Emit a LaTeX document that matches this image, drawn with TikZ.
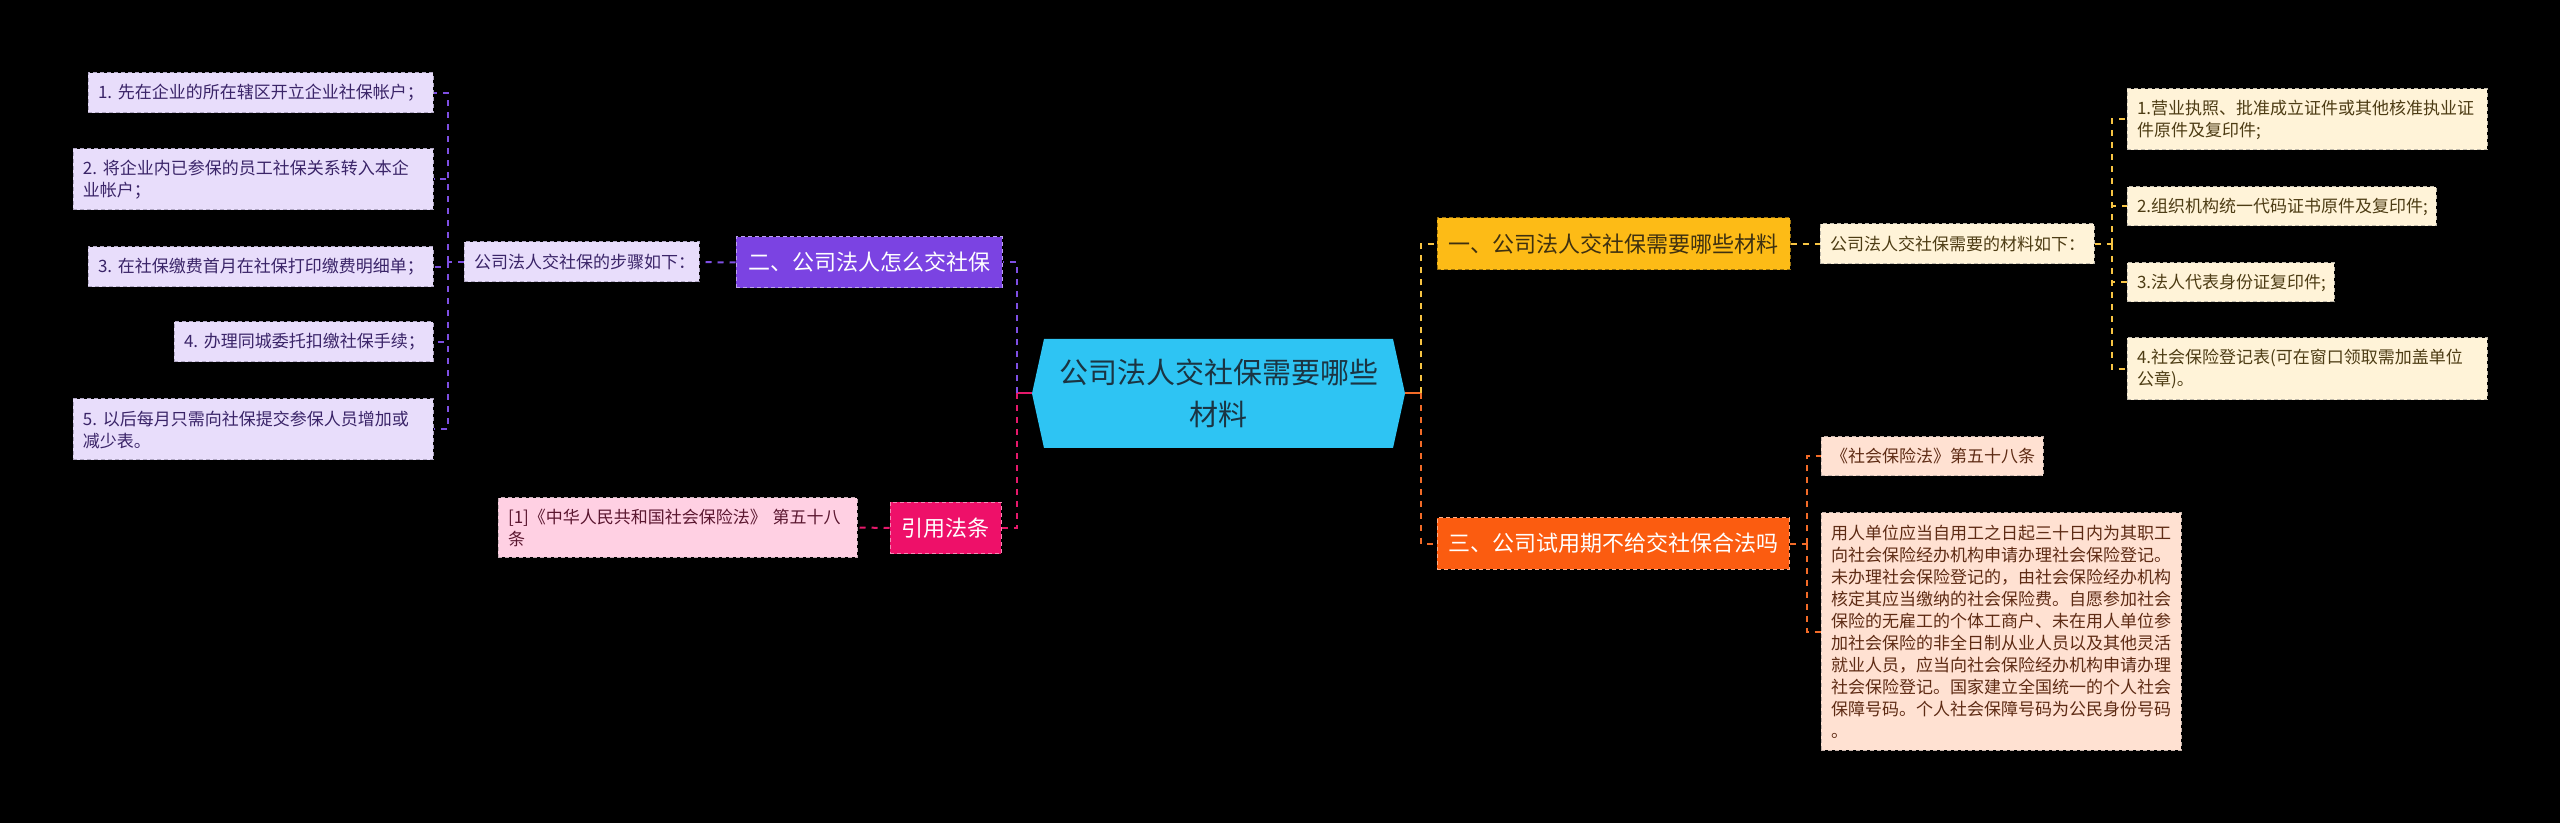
\documentclass[tikz,border=0pt]{standalone}
\usepackage{fontspec}
\setmainfont{Noto Sans CJK SC}
\usepackage{tikz}
\usepackage{xcolor}

\definecolor{rootfill}{HTML}{2EC4F3}
\definecolor{roottext}{HTML}{1B3442}
\definecolor{purpleA}{HTML}{7B43E2}
\definecolor{purpleB}{HTML}{E8DDFB}
\definecolor{purpleT}{HTML}{3A2468}
\definecolor{purpleL}{HTML}{7E4FE3}
\definecolor{pinkA}{HTML}{EE1069}
\definecolor{pinkB}{HTML}{FFD0E3}
\definecolor{pinkT}{HTML}{5B1730}
\definecolor{pinkL}{HTML}{E5196B}
\definecolor{yellowA}{HTML}{FDBB16}
\definecolor{yellowB}{HTML}{FFF3D8}
\definecolor{yellowT}{HTML}{4D3C14}
\definecolor{yellowL}{HTML}{F7C443}
\definecolor{orangeA}{HTML}{FB5C10}
\definecolor{orangeB}{HTML}{FFE1D2}
\definecolor{orangeT}{HTML}{5E2B14}
\definecolor{orangeL}{HTML}{F26B28}

\begin{document}
\begin{tikzpicture}[
  x=0.5pt, y=-0.5pt,
  every node/.style={font=\fontsize{8.5}{11}\selectfont},
  leafbox/.style={rectangle, line width=0.5pt, dash pattern=on 2pt off 1.5pt,
    inner xsep=5pt, inner ysep=0pt, align=left},
  mainbox/.style={rectangle, line width=0.5pt, dash pattern=on 2pt off 1.5pt,
    inner sep=0pt, font=\fontsize{11}{14}\selectfont},
  link/.style={line width=1pt, dash pattern=on 3pt off 3pt},
  stub/.style={line width=1pt},
  purpleleaf/.style={leafbox, fill=purpleB, draw=purpleT!40, text=purpleT},
  pinkleaf/.style={leafbox, fill=pinkB, draw=pinkT!35, text=pinkT},
  yellowleaf/.style={leafbox, fill=yellowB, draw=yellowT!35, text=yellowT},
  orangeleaf/.style={leafbox, fill=orangeB, draw=orangeT!35, text=orangeT},
]

% ---- Background and frame ----
\fill[black] (0,0) rectangle (2560,823);
\useasboundingbox (0,0) rectangle (2560,823);

% ---- Root hexagon ----
\fill[rootfill] (1032,393.5) -- (1044,339) -- (1393,339) -- (1405,393.5)
  -- (1393,448) -- (1044,448) -- cycle;
\node[inner sep=0pt, minimum width=186.5pt, minimum height=54.5pt, align=center,
  text=roottext, font=\fontsize{14.5}{20.8}\selectfont] (root) at (1218.5,393.5)
  {公司法人交社保需要哪些\\材料};

% ---- Junctions beside the root ----
\coordinate (jl) at (1017,393.5);
\coordinate (jr) at (1421,393.5);
\draw[stub, pinkL] (root.west) -- (jl);
\draw[stub, orangeL] (root.east) -- (jr);

% ---- Branch 2: how to pay (purple) ----
\node[mainbox, fill=purpleA, draw=purpleA!50!white, text=white,
  minimum width=133pt, minimum height=25.5pt] (p2) at (869,262.5) {二、公司法人怎么交社保};
\node[purpleleaf, text width=107.5pt, minimum height=20pt] (subL) at (581.5,262)
  {公司法人交社保的步骤如下：};
\draw[link, purpleL] (jl) |- (p2.east);
\draw[link, purpleL] (p2.west) -- (subL.east);
\path (subL.west) ++(-16,0) coordinate (bl);
\draw[link, purpleL] (subL.west) -- (bl);

\foreach \n/\x/\y/\w/\h/\txt in {
  1/260.5/93/345/40/{1.~先在企业的所在辖区开立企业社保帐户；},
  2/253/179.5/360/61/{2.~将企业内已参保的员工社保关系转入本企\\业帐户；},
  3/260.5/267/345/40/{3.~在社保缴费首月在社保打印缴费明细单；},
  4/303.5/342/259/40/{4.~办理同城委托扣缴社保手续；},
  5/253/429.5/360/61/{5.~以后每月只需向社保提交参保人员增加或\\减少表。}} {
  \pgfmathsetmacro\tw{(\w-20)*0.5}
  \pgfmathsetmacro\th{\h*0.5}
  \node[purpleleaf, text width=\tw pt, minimum height=\th pt] (s\n) at (\x,\y) {\txt};
  \draw[link, purpleL] (bl) |- (s\n.east);
}

% ---- Cited law (pink) ----
\node[mainbox, fill=pinkA, draw=pinkA!50!white, text=white,
  minimum width=55.5pt, minimum height=25.5pt] (c1) at (945.5,528) {引用法条};
\node[pinkleaf, text width=169.5pt, minimum height=29.5pt] (cite) at (677.5,527.5)
  {[1]《中华人民共和国社会保险法》 第五十八\\条};
\draw[link, pinkL] (jl) |- (c1.east);
\draw[link, pinkL] (c1.west) -- (cite.east);

% ---- Branch 1: materials (yellow) ----
\node[mainbox, fill=yellowA, draw=yellowA!60!black, text=yellowT!80!black,
  minimum width=176.5pt, minimum height=26pt] (y1) at (1613.5,244) {一、公司法人交社保需要哪些材料};
\node[yellowleaf, text width=127pt, minimum height=20pt] (subR) at (1957,244)
  {公司法人交社保需要的材料如下：};
\draw[link, yellowL] (jr) |- (y1.west);
\draw[link, yellowL] (y1.east) -- (subR.west);
\path (subR.east) ++(17,0) coordinate (br);
\draw[link, yellowL] (subR.east) -- (br);

\foreach \n/\x/\y/\w/\h/\txt in {
  1/2307/119.5/360/61/{1.营业执照、批准成立证件或其他核准执业证\\件原件及复印件;},
  2/2281.5/206.5/309/39/{2.组织机构统一代码证书原件及复印件;},
  3/2230.5/282.5/207/39/{3.法人代表身份证复印件;},
  4/2307/369/360/62/{4.社会保险登记表(可在窗口领取需加盖单位\\公章)。}} {
  \pgfmathsetmacro\tw{(\w-20)*0.5}
  \pgfmathsetmacro\th{\h*0.5}
  \node[yellowleaf, text width=\tw pt, minimum height=\th pt] (m\n) at (\x,\y) {\txt};
  \draw[link, yellowL] (br) |- (m\n.west);
}

% ---- Branch 3: probation period (orange) ----
\node[mainbox, fill=orangeA, draw=orangeA!50!white, text=white,
  minimum width=176pt, minimum height=25.5pt] (o1) at (1613,543.5) {三、公司试用期不给交社保合法吗};
\draw[link, orangeL] (jr) |- (o1.west);
\path (o1.east) ++(17,0) coordinate (bo);
\draw[link, orangeL] (o1.east) -- (bo);

\node[orangeleaf, text width=101pt, minimum height=19.5pt] (law) at (1932,456.5)
  {《社会保险法》第五十八条};
\node[orangeleaf, text width=170pt, minimum height=118.5pt] (rule) at (2001,631.5)
  {用人单位应当自用工之日起三十日内为其职工\\
   向社会保险经办机构申请办理社会保险登记。\\
   未办理社会保险登记的，由社会保险经办机构\\
   核定其应当缴纳的社会保险费。自愿参加社会\\
   保险的无雇工的个体工商户、未在用人单位参\\
   加社会保险的非全日制从业人员以及其他灵活\\
   就业人员，应当向社会保险经办机构申请办理\\
   社会保险登记。国家建立全国统一的个人社会\\
   保障号码。个人社会保障号码为公民身份号码\\
   。};
\draw[link, orangeL] (bo) |- (law.west);
\draw[link, orangeL] (bo) |- (rule.west);

\end{tikzpicture}
\end{document}
